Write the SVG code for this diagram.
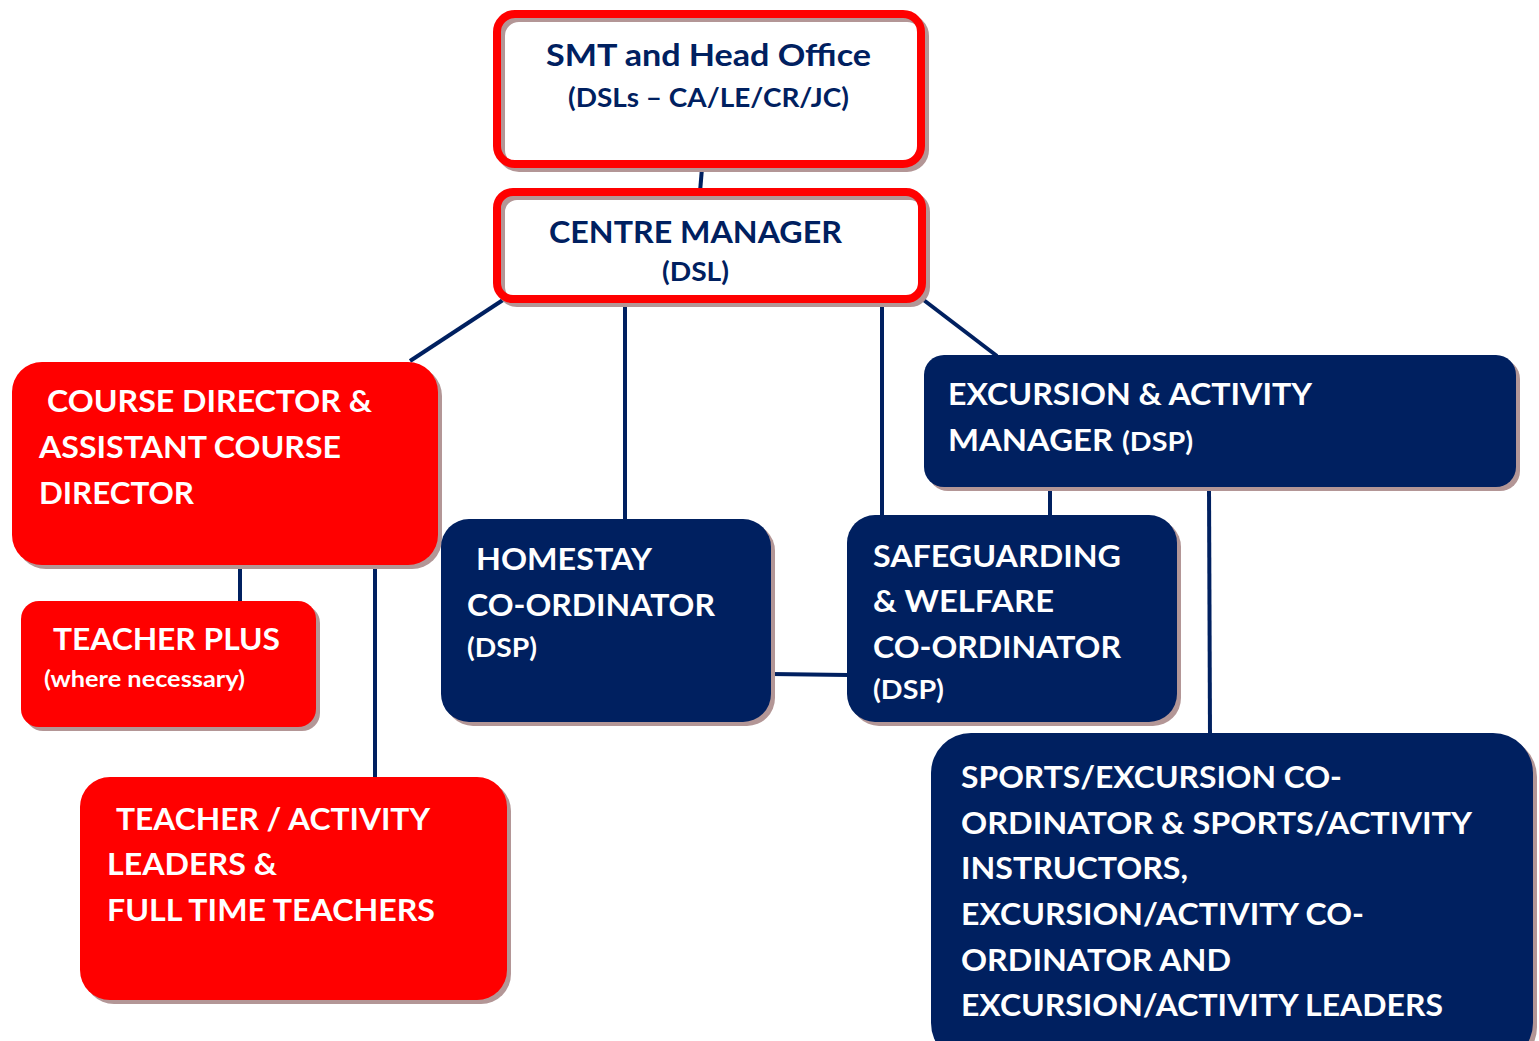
<svg xmlns="http://www.w3.org/2000/svg" width="1539" height="1041" viewBox="0 0 1539 1041">
<style>
.t{font-family:Lato,"Open Sans","Liberation Sans",sans-serif;font-weight:bold;}
.wt{fill:#ffffff;}
.nt{fill:#002060;}
.shadow{fill:#b39696;}
.red{fill:#ff0000;}
.navy{fill:#002060;}
.conn line{stroke:#002060;stroke-width:4;}
</style>
<rect width="1539" height="1041" fill="#ffffff"/>
<g id="connectors" class="conn">
<line x1="702" y1="168" x2="700" y2="192"/>
<line x1="506" y1="298" x2="410" y2="361"/>
<line x1="625" y1="302" x2="625" y2="520"/>
<line x1="882" y1="302" x2="882" y2="516"/>
<line x1="921" y1="298" x2="997" y2="356"/>
<line x1="240" y1="565" x2="240" y2="602"/>
<line x1="375" y1="565" x2="375" y2="778"/>
<line x1="771" y1="674" x2="848" y2="675"/>
<line x1="1050" y1="487" x2="1050" y2="516"/>
<line x1="1209" y1="487" x2="1210" y2="734"/>
</g>
<g id="smt">
<rect x="497" y="14" width="424" height="150" rx="18" fill="#ffffff"/>
<rect x="501" y="18" width="424" height="150" rx="18" fill="none" stroke="#b39696" stroke-width="8"/>
<rect x="497" y="14" width="424" height="150" rx="18" fill="none" stroke="#ff0000" stroke-width="8"/>
<text class="t nt" x="546" y="66" font-size="31" textLength="325" lengthAdjust="spacingAndGlyphs">SMT and Head Office</text>
<text class="t nt" x="568" y="107" font-size="26" textLength="281" lengthAdjust="spacingAndGlyphs">(DSLs – CA/LE/CR/JC)</text>
</g>
<g id="centre-manager">
<rect x="497" y="192" width="425" height="107" rx="16" fill="#ffffff"/>
<rect x="501" y="196" width="425" height="107" rx="16" fill="none" stroke="#b39696" stroke-width="8"/>
<rect x="497" y="192" width="425" height="107" rx="16" fill="none" stroke="#ff0000" stroke-width="8"/>
<text class="t nt" x="549" y="243" font-size="31" textLength="293" lengthAdjust="spacingAndGlyphs">CENTRE MANAGER</text>
<text class="t nt" x="662" y="281" font-size="26" textLength="67" lengthAdjust="spacingAndGlyphs">(DSL)</text>
</g>
<g id="course-director">
<rect class="shadow" x="16" y="366" width="426" height="203" rx="30"/>
<rect class="red" x="12" y="362" width="426" height="203" rx="30"/>
<text class="t wt" x="47" y="412" font-size="31" textLength="325" lengthAdjust="spacingAndGlyphs">COURSE DIRECTOR &amp;</text>
<text class="t wt" x="39" y="458" font-size="31" textLength="302" lengthAdjust="spacingAndGlyphs">ASSISTANT COURSE</text>
<text class="t wt" x="39" y="504" font-size="31" textLength="155" lengthAdjust="spacingAndGlyphs">DIRECTOR</text>
</g>
<g id="teacher-plus">
<rect class="shadow" x="25" y="605" width="295" height="126" rx="18"/>
<rect class="red" x="21" y="601" width="295" height="126" rx="18"/>
<text class="t wt" x="53" y="650" font-size="30" textLength="227" lengthAdjust="spacingAndGlyphs">TEACHER PLUS</text>
<text class="t wt" x="44" y="687" font-size="23" textLength="201" lengthAdjust="spacingAndGlyphs">(where necessary)</text>
</g>
<g id="teachers">
<rect class="shadow" x="84" y="781" width="427" height="223" rx="30"/>
<rect class="red" x="80" y="777" width="427" height="223" rx="30"/>
<text class="t wt" x="116" y="830" font-size="31" textLength="314" lengthAdjust="spacingAndGlyphs">TEACHER / ACTIVITY</text>
<text class="t wt" x="107" y="875" font-size="31" textLength="170" lengthAdjust="spacingAndGlyphs">LEADERS &amp;</text>
<text class="t wt" x="107" y="921" font-size="31" textLength="328" lengthAdjust="spacingAndGlyphs">FULL TIME TEACHERS</text>
</g>
<g id="homestay">
<rect class="shadow" x="445" y="523" width="330" height="203" rx="28"/>
<rect class="navy" x="441" y="519" width="330" height="203" rx="28"/>
<text class="t wt" x="476" y="570" font-size="31" textLength="176" lengthAdjust="spacingAndGlyphs">HOMESTAY</text>
<text class="t wt" x="467" y="616" font-size="31" textLength="248" lengthAdjust="spacingAndGlyphs">CO-ORDINATOR</text>
<text class="t wt" x="467" y="657" font-size="27" textLength="70" lengthAdjust="spacingAndGlyphs">(DSP)</text>
</g>
<g id="safeguarding">
<rect class="shadow" x="851" y="519" width="330" height="207" rx="28"/>
<rect class="navy" x="847" y="515" width="330" height="207" rx="28"/>
<text class="t wt" x="873" y="567" font-size="31" textLength="248" lengthAdjust="spacingAndGlyphs">SAFEGUARDING</text>
<text class="t wt" x="873" y="612" font-size="31" textLength="181" lengthAdjust="spacingAndGlyphs">&amp; WELFARE</text>
<text class="t wt" x="873" y="658" font-size="31" textLength="248" lengthAdjust="spacingAndGlyphs">CO-ORDINATOR</text>
<text class="t wt" x="873" y="699" font-size="27" textLength="71" lengthAdjust="spacingAndGlyphs">(DSP)</text>
</g>
<g id="excursion-manager">
<rect class="shadow" x="928" y="359" width="592" height="132" rx="20"/>
<rect class="navy" x="924" y="355" width="592" height="132" rx="20"/>
<text class="t wt" x="948" y="405" font-size="31" textLength="364" lengthAdjust="spacingAndGlyphs">EXCURSION &amp; ACTIVITY</text>
<text class="t wt" x="948" y="451" font-size="31" textLength="165" lengthAdjust="spacingAndGlyphs">MANAGER</text>
<text class="t wt" x="1122" y="451" font-size="26" textLength="71" lengthAdjust="spacingAndGlyphs">(DSP)</text>
</g>
<g id="sports">
<rect class="shadow" x="935" y="737" width="602" height="330" rx="40"/>
<rect class="navy" x="931" y="733" width="602" height="330" rx="40"/>
<text class="t wt" x="961" y="788" font-size="30" textLength="381" lengthAdjust="spacingAndGlyphs">SPORTS/EXCURSION CO-</text>
<text class="t wt" x="961" y="834" font-size="30" textLength="511" lengthAdjust="spacingAndGlyphs">ORDINATOR &amp; SPORTS/ACTIVITY</text>
<text class="t wt" x="961" y="879" font-size="30" textLength="227" lengthAdjust="spacingAndGlyphs">INSTRUCTORS,</text>
<text class="t wt" x="961" y="925" font-size="30" textLength="403" lengthAdjust="spacingAndGlyphs">EXCURSION/ACTIVITY CO-</text>
<text class="t wt" x="961" y="971" font-size="30" textLength="270" lengthAdjust="spacingAndGlyphs">ORDINATOR AND</text>
<text class="t wt" x="961" y="1016" font-size="30" textLength="482" lengthAdjust="spacingAndGlyphs">EXCURSION/ACTIVITY LEADERS</text>
</g>
</svg>
